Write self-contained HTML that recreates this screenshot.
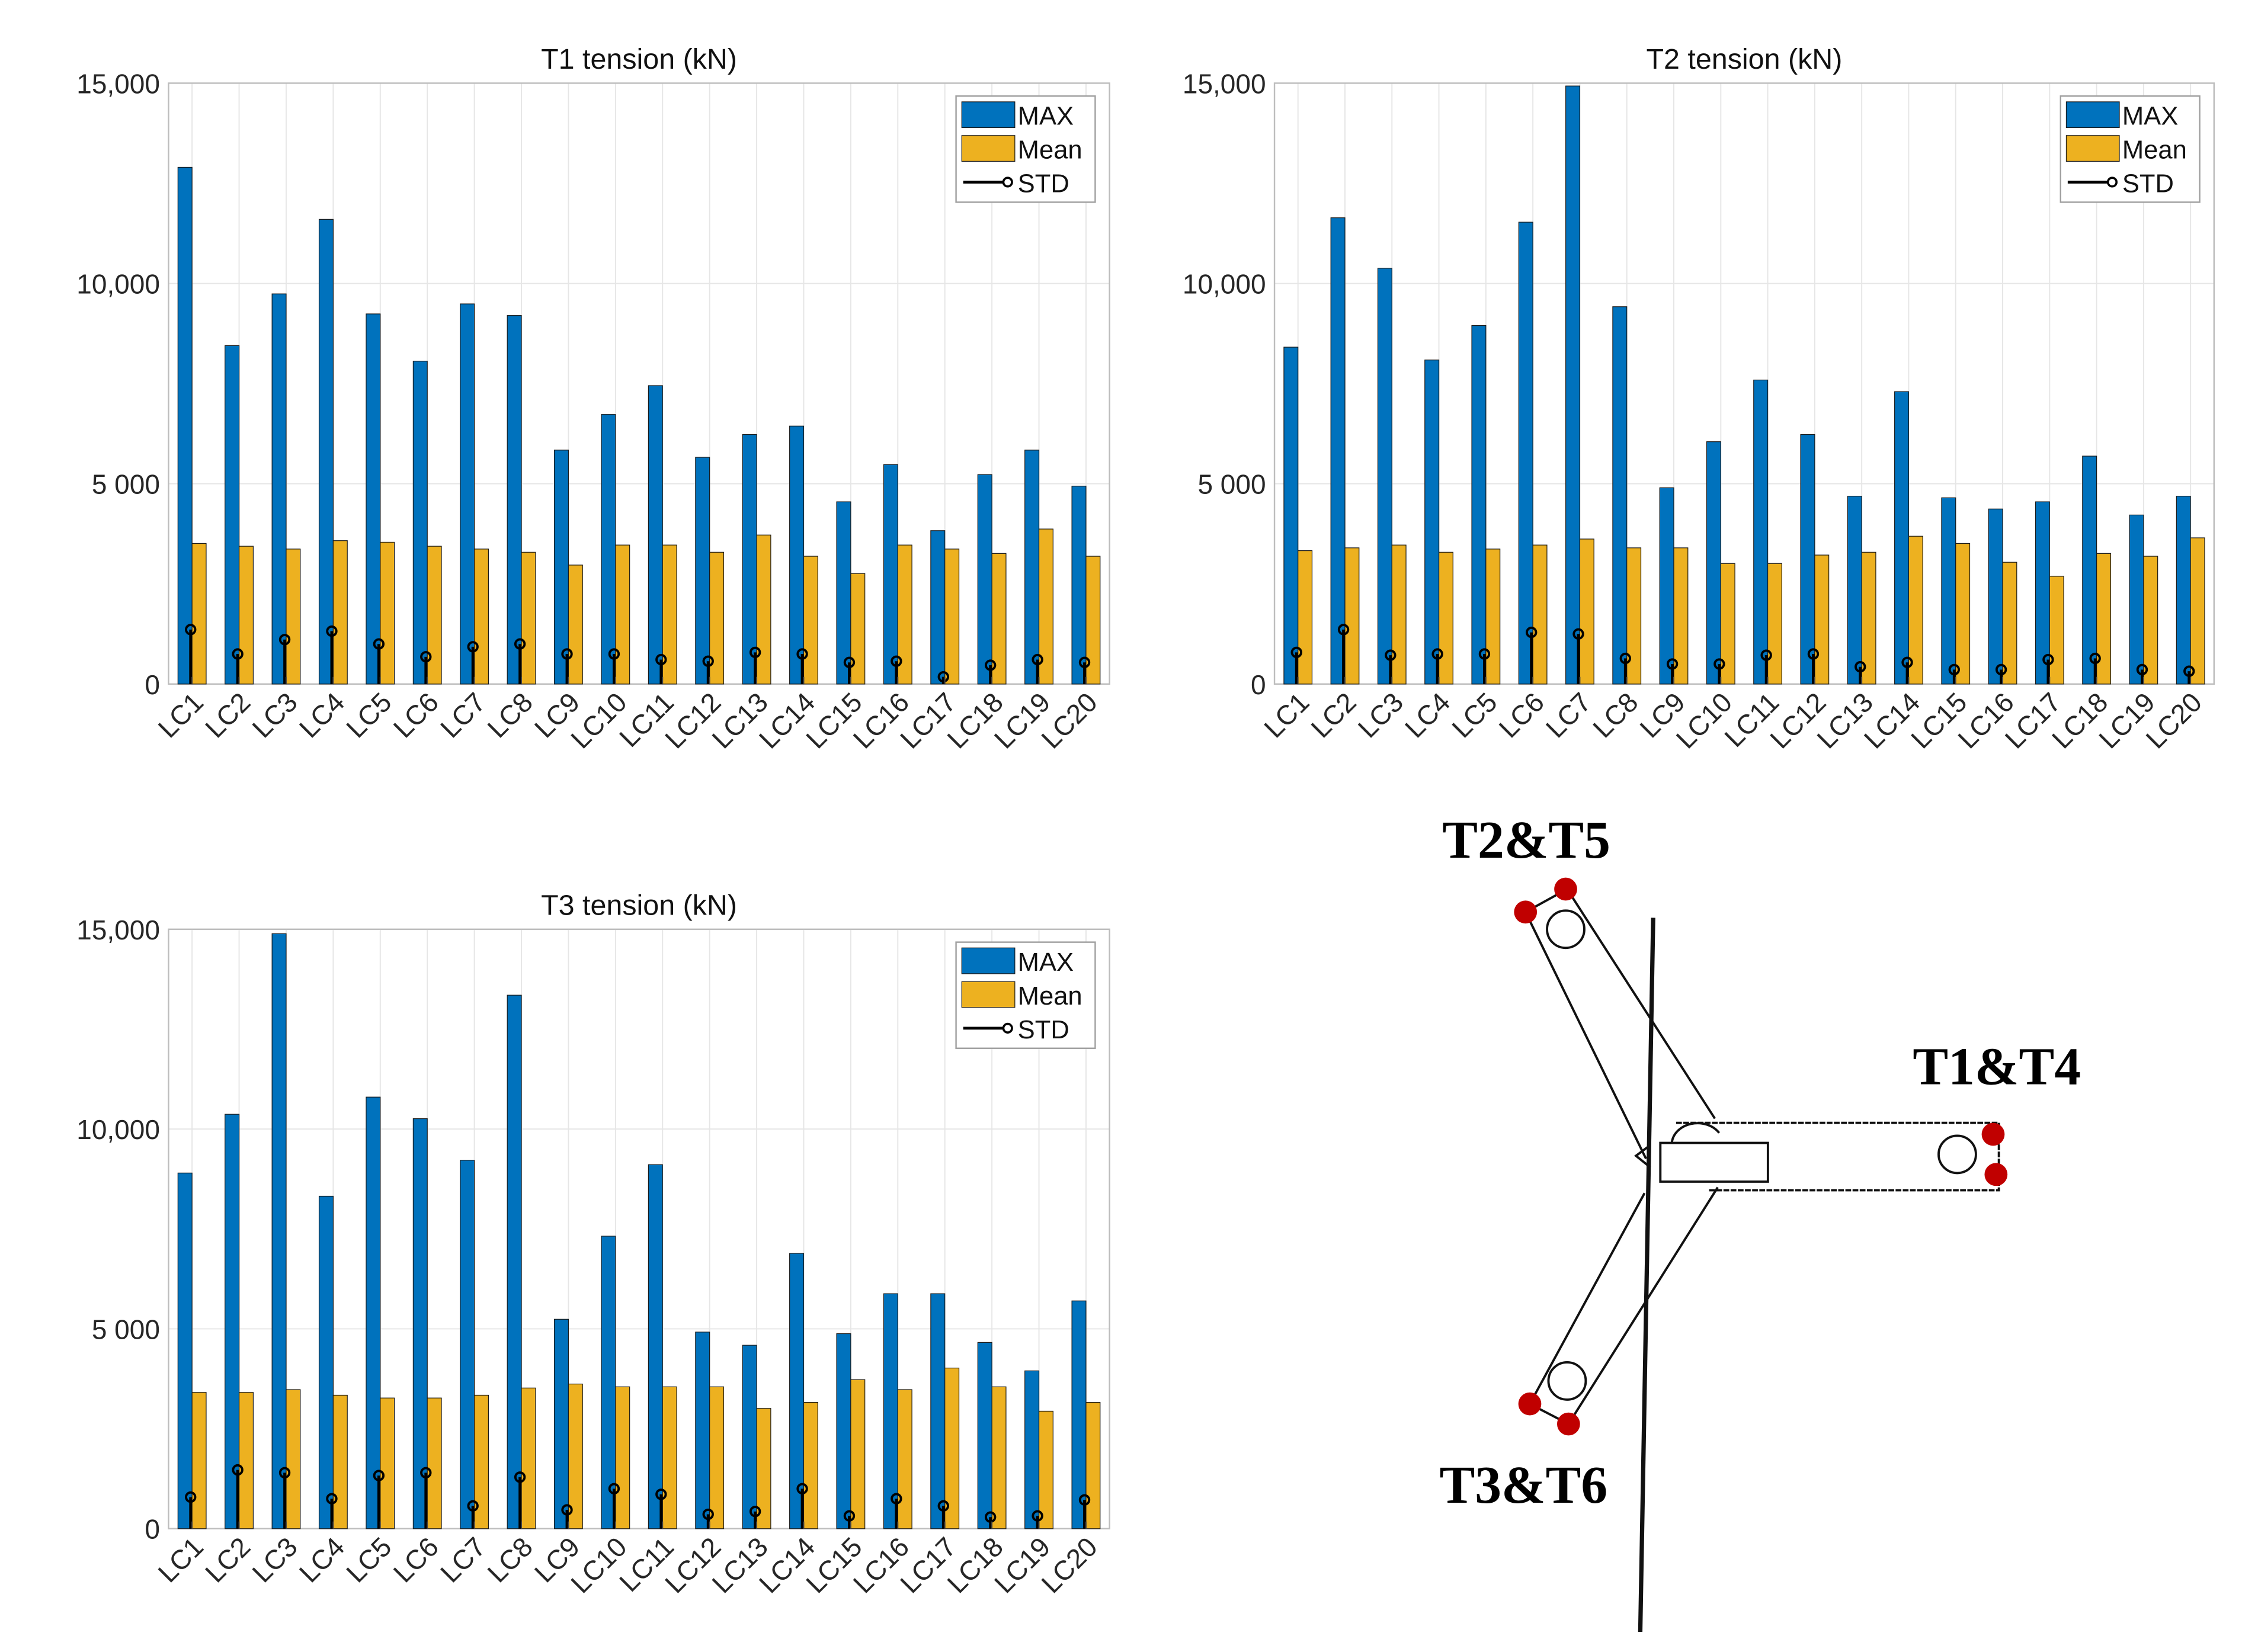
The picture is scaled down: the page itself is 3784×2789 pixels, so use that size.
<!DOCTYPE html>
<html><head><meta charset="utf-8"><style>
html,body{margin:0;padding:0;background:#fff}
svg{display:block}
text{font-family:"Liberation Sans",sans-serif}
</style></head><body>
<svg id="page" width="3784" height="2789" viewBox="0 0 1562 1152" xmlns="http://www.w3.org/2000/svg">
<g id="diagram" fill="none" stroke="#111" stroke-width="1.6">
  <line x1="1152" y1="640" x2="1143" y2="1138" stroke-width="3"/>
  <polyline points="1147,808 1063,636 1092,620 1195,780"/>
  <polyline points="1146,832 1066,979 1093,993 1197,828"/>
  <polyline points="1168,783 1393,783 1393,830 1190,830" stroke-dasharray="4,1"/>
  <rect x="1157" y="797" width="75" height="27"/>
  <path d="M1165,797 A18,15 0 0 1 1198,790"/>
  <path d="M1148,800 L1140,806 L1150,814"/>
  <circle cx="1091" cy="648" r="13"/>
  <circle cx="1092" cy="963" r="13"/>
  <circle cx="1364" cy="805" r="13"/>
  <g fill="#c00000" stroke="none">
    <circle cx="1063" cy="636" r="8"/>
    <circle cx="1091" cy="620" r="8"/>
    <circle cx="1389" cy="791" r="8"/>
    <circle cx="1391" cy="819" r="8"/>
    <circle cx="1066" cy="979" r="8"/>
    <circle cx="1093" cy="993" r="8"/>
  </g>
  <g fill="#000" stroke="none" font-weight="bold" font-size="37" style="font-family:'Liberation Serif',serif">
    <text x="1005" y="598" style="font-family:'Liberation Serif',serif">T2&amp;T5</text>
    <text x="1333" y="756" style="font-family:'Liberation Serif',serif">T1&amp;T4</text>
    <text x="1003" y="1048" style="font-family:'Liberation Serif',serif">T3&amp;T6</text>
  </g>
</g>
</svg>
<script>
const categories=["LC1","LC2","LC3","LC4","LC5","LC6","LC7","LC8","LC9","LC10","LC11","LC12","LC13","LC14","LC15","LC16","LC17","LC18","LC19","LC20"];
const yTicks=[0,5000,10000,15000];
const yTickLabels=["0","5 000","10,000","15,000"];
const t1Max=[12900,8450,9740,11600,9240,8060,9490,9200,5840,6730,7450,5660,6230,6440,4550,5480,3830,5230,5840,4940];
const t1Mean=[3510,3440,3370,3580,3540,3440,3370,3290,2970,3470,3470,3290,3720,3190,2760,3470,3370,3260,3870,3190];
const t1Std=[1360,750,1110,1320,1000,680,930,1000,750,750,610,570,790,750,540,570,180,470,610,540];
const t2Max=[8410,11640,10380,8090,8950,11530,14930,9420,4900,6050,7590,6230,4690,7300,4650,4370,4550,5690,4220,4690];
const t2Mean=[3330,3400,3470,3290,3370,3470,3620,3400,3400,3010,3010,3220,3290,3690,3510,3040,2690,3260,3190,3650];
const t2Std=[790,1360,720,750,750,1290,1250,640,500,500,720,750,430,540,360,360,610,640,360,320];
const t3Max=[8900,10370,14890,8320,10800,10260,9220,13350,5240,7320,9110,4920,4590,6890,4880,5880,5880,4660,3950,5700];
const t3Mean=[3410,3410,3480,3340,3270,3270,3340,3520,3620,3550,3550,3550,3010,3160,3730,3480,4020,3550,2940,3160];
const t3Std=[790,1470,1400,750,1330,1400,570,1290,470,1000,860,360,430,1000,320,750,570,290,320,720];

const NS="http://www.w3.org/2000/svg";
const svg=document.getElementById('page');
function mk(tag,attrs,parent){const e=document.createElementNS(NS,tag);for(const k in attrs)e.setAttribute(k,attrs[k]);parent.appendChild(e);return e;}

function chart(id,title,L,R,T,B,maxV,meanV,stdV){
  const g=mk('g',{},svg);
  
  
  const yMax=15000;
  const y=v=>B-(v/yMax)*(B-T);
  const bw=(R-L)/categories.length;
  const x=i=>L+bw*(i+0.5);
  // grid
  yTicks.forEach((t,i)=>{
    const gl=mk('line',{x1:L,x2:R,y1:y(t),y2:y(t),stroke:'#e6e6e6','stroke-width':0.8},g);
    
    
    const tl=mk('text',{x:L-6,y:y(t)+7,'text-anchor':'end','font-size':19,fill:'#262626'},g);
    tl.textContent=yTickLabels[i];
    
    
  });
  categories.forEach((c,i)=>{
    const gl=mk('line',{x1:x(i),x2:x(i),y1:T,y2:B,stroke:'#e6e6e6','stroke-width':0.8},g);
    
    
  });
  // axes box
  const box=mk('rect',{x:L,y:T,width:R-L,height:B-T,fill:'none',stroke:'#bdbdbd','stroke-width':1},g);
  
  
  const bwBar=bw*0.3;
  categories.forEach((c,i)=>{
    const b1=mk('rect',{x:x(i)-bwBar,y:y(maxV[i]),width:bwBar,height:B-y(maxV[i]),fill:'#0072BD',stroke:'#1a1a1a','stroke-width':0.5},g);
    
    
    const b2=mk('rect',{x:x(i),y:y(meanV[i]),width:bwBar,height:B-y(meanV[i]),fill:'#EDB120',stroke:'#1a1a1a','stroke-width':0.5},g);
    
    
    const s=mk('line',{x1:x(i)-1,x2:x(i)-1,y1:B,y2:y(stdV[i]),stroke:'#000','stroke-width':2},g);
    
    
    const m=mk('circle',{cx:x(i)-1,cy:y(stdV[i]),r:3.2,fill:'none',stroke:'#000','stroke-width':1.6},g);
    
    
    const tk=mk('line',{x1:x(i),x2:x(i),y1:B,y2:B-5,stroke:'#444','stroke-width':0.8},g);
    
    
    const tx=x(i)+9, ty=B+14;
    const lb=mk('text',{x:tx,y:ty,'text-anchor':'end','font-size':19,fill:'#262626',transform:`rotate(-45 ${tx} ${ty})`},g);
    lb.textContent=c;
    
    
  });
  const tt=mk('text',{x:(L+R)/2,y:T-10,'text-anchor':'middle','font-size':20,fill:'#111'},g);
  tt.textContent=title;
  
  
  // legend
  const lx=R-107, ly=T+9;
  const lg=mk('g',{},g);
  
  
  mk('rect',{x:lx,y:ly,width:97,height:74,fill:'#fff',stroke:'#a0a0a0','stroke-width':1},lg);
  const items=[['MAX','#0072BD'],['Mean','#EDB120'],['STD',null]];
  items.forEach((it,k)=>{
    const cy=ly+13+k*23.5;
    if(it[1]){
      const sw=mk('rect',{x:lx+4,y:cy-9,width:37,height:18,fill:it[1],stroke:'#1a1a1a','stroke-width':0.5},lg);
      
      
    } else {
      mk('line',{x1:lx+5,x2:lx+36,y1:cy,y2:cy,stroke:'#000','stroke-width':2},lg);
      mk('circle',{cx:lx+36,cy:cy,r:3,fill:'#fff',stroke:'#000','stroke-width':1.5},lg);
    }
    const t=mk('text',{x:lx+43,y:cy+7,'font-size':18,fill:'#111'},lg);
    t.textContent=it[0];
    
    
  });
}
chart('chart-t1','T1 tension (kN)',117,773,58,477,t1Max,t1Mean,t1Std);
chart('chart-t2','T2 tension (kN)',888,1543,58,477,t2Max,t2Mean,t2Std);
chart('chart-t3','T3 tension (kN)',117,773,648,1066,t3Max,t3Mean,t3Std);
</script>
</body></html>
